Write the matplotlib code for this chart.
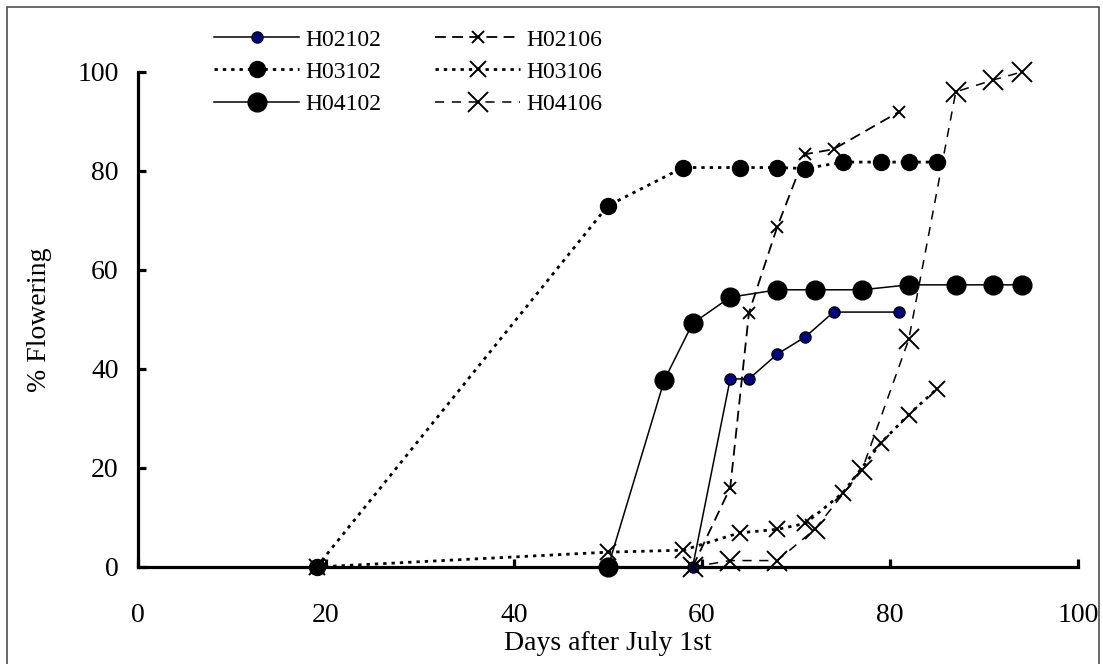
import matplotlib
matplotlib.use("Agg")
import matplotlib.pyplot as plt
from matplotlib.patches import Rectangle

plt.rcParams['font.family'] = ['Liberation Serif', 'DejaVu Serif']

# Data (days after July 1st, % flowering)
h02102_x = [59, 63, 65, 68, 71, 74, 81]
h02102_y = [0, 38, 38, 43, 46.5, 51.5, 51.5]

h03102_x = [19, 50, 58, 64, 68, 71, 75, 79, 82, 85]
h03102_y = [0, 73, 80.7, 80.7, 80.7, 80.5, 81.8, 81.8, 81.8, 81.8]

h04102_x = [50, 56, 59, 63, 68, 72, 77, 82, 87, 91, 94]
h04102_y = [0, 37.8, 49.2, 54.5, 56, 56, 56, 57, 57, 57, 57]

h02106_x = [59, 63, 65, 68, 71, 74, 81]
h02106_y = [0, 16, 51.4, 68.7, 83.4, 84.4, 92]

h03106_x = [19, 50, 58, 64, 68, 71, 75, 79, 82, 85]
h03106_y = [0, 3, 3.4, 6.9, 7.6, 8.8, 15, 25, 30.8, 36]

h04106_x = [59, 63, 68, 72, 77, 82, 87, 91, 94]
h04106_y = [0, 1.3, 1.3, 7.6, 19.5, 46, 96, 98.4, 100]

x_ticks = [0, 20, 40, 60, 80, 100]
y_ticks = [0, 20, 40, 60, 80, 100]

fig = plt.figure(figsize=(11.03, 6.64), dpi=100)
ax = fig.add_axes([138/1103, 97/664, 940/1103, 495/664])

lw = 1.1
l1, = ax.plot(h02102_x, h02102_y, '-', color='black', lw=lw, marker='o', ms=8,
              mfc='#000080', mec='black', mew=1.0, label='H02102', clip_on=False, zorder=3)
l2, = ax.plot(h02106_x, h02106_y, color='black', lw=1.3, dashes=(6, 3.5), marker='x', ms=9,
              mec='black', mew=1.4, label='H02106', clip_on=False, zorder=3)
l3, = ax.plot(h03102_x, h03102_y, color='black', lw=2.0, dashes=(1.2, 1.8), marker='o', ms=11.5,
              mfc='black', mec='black', label='H03102', clip_on=False, zorder=3)
l4, = ax.plot(h03106_x, h03106_y, color='black', lw=2.0, dashes=(1.2, 1.8), marker='x', ms=11,
              mec='black', mew=1.4, label='H03106', clip_on=False, zorder=3)
l5, = ax.plot(h04102_x, h04102_y, '-', color='black', lw=lw, marker='o', ms=13.5,
              mfc='black', mec='black', label='H04102', clip_on=False, zorder=3)
l6, = ax.plot(h04106_x, h04106_y, color='black', lw=1.1, dashes=(6, 5), marker='x', ms=14,
              mec='black', mew=1.4, label='H04106', clip_on=False, zorder=3)

ax.set_xlim(0, 100)
ax.set_ylim(0, 100)
ax.set_xticks(x_ticks)
ax.set_yticks(y_ticks)
ax.spines['top'].set_visible(False)
ax.spines['right'].set_visible(False)
for s in ('left', 'bottom'):
    ax.spines[s].set_linewidth(2.3)
ax.tick_params(axis='both', direction='in', length=6, width=2.3, labelsize=20)
ax.tick_params(axis='x', pad=26)
ax.tick_params(axis='y', pad=14)
ax.set_xlabel('Days after July 1st', fontsize=20, labelpad=2)
ax.set_ylabel('% Flowering', fontsize=20, labelpad=18)

handles = [l1, l3, l5, l2, l4, l6]
labels = [h.get_label() for h in handles]
leg = ax.legend(handles, labels, ncol=2, frameon=False, fontsize=17,
                loc='upper left', bbox_to_anchor=(214/1103, 1 - 29/664),
                bbox_transform=fig.transFigure, borderpad=0, borderaxespad=0,
                handlelength=3.6, handletextpad=0.25, columnspacing=2.3,
                labelspacing=0.45)

fig.patches.append(Rectangle((6.5/1103, -0.05), (1099 - 6.5)/1103, (664 - 6.5)/664 + 0.05,
                             transform=fig.transFigure, fill=False,
                             edgecolor='#404040', lw=1.1))

fig.savefig('out.png', dpi=100)
